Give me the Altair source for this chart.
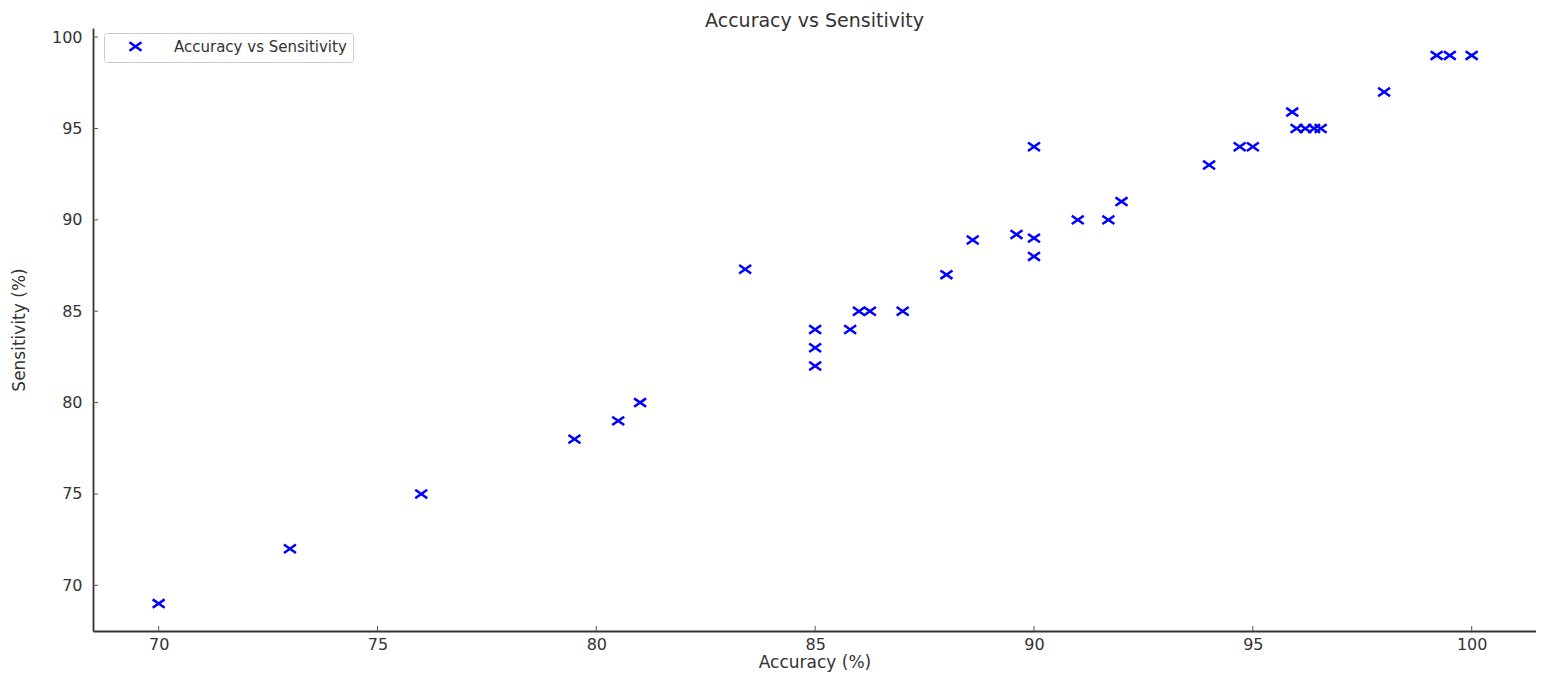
import altair as alt
import pandas as pd

accuracy = [70, 73, 76, 79.5, 80.5, 81, 83.4, 85, 85, 85, 85.8, 86.0, 86.25, 87, 88,
            88.6, 89.6, 90, 90, 90, 91, 91.7, 92, 94, 94.7, 95, 95.9, 96.0, 96.2,
            96.4, 96.55, 98, 99.2, 99.5, 100]
sensitivity = [69, 72, 75, 78, 79, 80, 87.3, 84, 83, 82, 84, 85, 85, 85, 87,
               88.9, 89.2, 89, 88, 94, 90, 90, 91, 93, 94, 94, 95.9, 95, 95,
               95, 95, 97, 99, 99, 99]
series_name = "Accuracy vs Sensitivity"
chart_title = ["Accuracy vs Sensitivity"]
x_ticks = [70, 75, 80, 85, 90, 95, 100]
y_ticks = [70, 75, 80, 85, 90, 95, 100]

W, H = 1443, 603
XMARK = "M-1,-0.7L1,0.7M1,-0.7L-1,0.7"
FONT = "DejaVu Sans"
TXT = "#333333"

df = pd.DataFrame({"Accuracy": accuracy, "Sensitivity": sensitivity,
                   "series": [series_name] * len(accuracy)})
xt = pd.DataFrame({"v": x_ticks})
yt = pd.DataFrame({"v": y_ticks})
tt = pd.DataFrame({"t": chart_title})

xscale = alt.Scale(domain=[68.5, 101.47], nice=False, zero=False)
yscale = alt.Scale(domain=[67.5, 100.5], nice=False, zero=False)

points = alt.Chart(df).mark_point(filled=False, strokeWidth=2.5, size=144, opacity=1).encode(
    x=alt.X("Accuracy:Q", scale=xscale, axis=alt.Axis(
        title="Accuracy (%)", values=x_ticks, grid=False, ticks=False, tickSize=0,
        labelPadding=5, labelFontSize=16, labelColor=TXT, labelFont=FONT,
        titleFontSize=17, titleFont=FONT, titleColor=TXT, titleFontWeight="normal",
        titleY=36, titleBaseline="alphabetic",
        domainColor="#333333", domainWidth=1.8)),
    y=alt.Y("Sensitivity:Q", scale=yscale, axis=alt.Axis(
        title="Sensitivity (%)", values=y_ticks, grid=False, ticks=False, tickSize=0,
        labelPadding=11, labelFontSize=16, labelColor=TXT, labelFont=FONT,
        titleFontSize=17, titleFont=FONT, titleColor=TXT, titleFontWeight="normal",
        titleX=-69, titleBaseline="alphabetic",
        domainColor="#333333", domainWidth=1.8)),
    color=alt.Color("series:N", scale=alt.Scale(domain=[series_name], range=["#0000ff"]),
                    legend=alt.Legend(title=None, orient="none", legendX=11, legendY=5,
                                      fillColor="white", strokeColor="#cccccc",
                                      cornerRadius=3, padding=6, labelLimit=400,
                                      labelFontSize=15, labelFont=FONT, labelColor=TXT,
                                      symbolSize=144, symbolStrokeWidth=2.5,
                                      symbolOffset=18, labelOffset=31)),
    shape=alt.Shape("series:N", scale=alt.Scale(domain=[series_name], range=[XMARK]),
                    legend=None),
)

xtick_rules = alt.Chart(xt).mark_rule(color="#555555", strokeWidth=1).encode(
    x=alt.X("v:Q", scale=xscale),
    y=alt.value(H - 5), y2=alt.value(H),
)
ytick_rules = alt.Chart(yt).mark_rule(color="#555555", strokeWidth=1).encode(
    y=alt.Y("v:Q", scale=yscale),
    x=alt.value(0), x2=alt.value(5),
)
title_text = alt.Chart(tt).mark_text(font=FONT, fontSize=19, color=TXT,
                                     align="center", baseline="alphabetic").encode(
    text="t:N", x=alt.value(W / 2), y=alt.value(-1),
)

chart = alt.layer(points, xtick_rules, ytick_rules, title_text).properties(
    width=W, height=H,
    background="white",
    autosize=alt.AutoSizeParams(type="none"),
    padding={"left": 85, "top": 20, "right": 0, "bottom": 41},
).configure_view(strokeWidth=0)

chart.save("out.html", embed_options={"renderer": "svg", "actions": False})
